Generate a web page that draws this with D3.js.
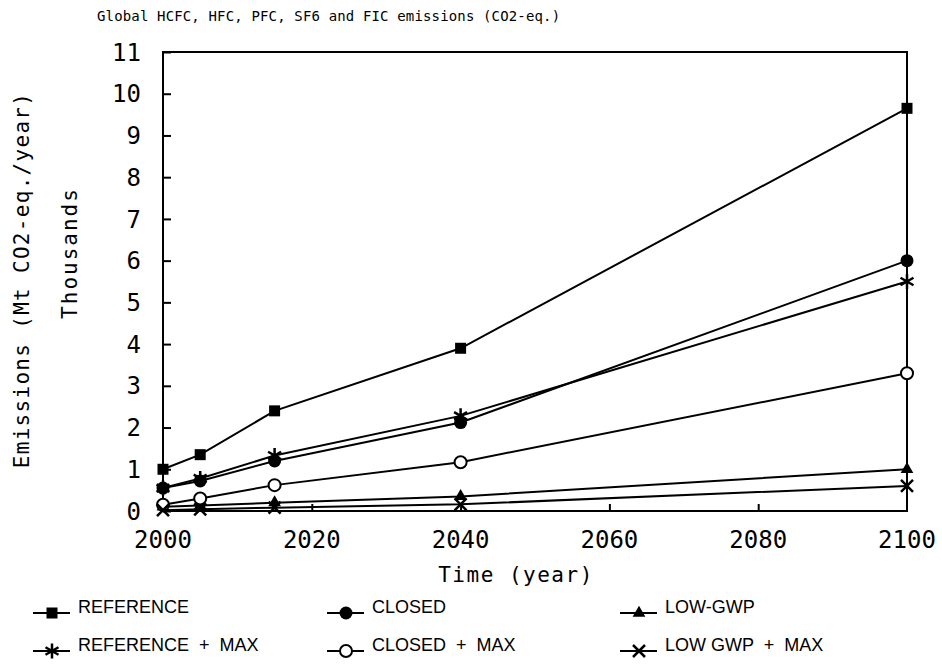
<!DOCTYPE html>
<meta charset="utf-8">
<head>
  <title>Global HCFC, HFC, PFC, SF6 and FIC emissions</title>
  <style>
    body { margin: 0; background: #fff; }
    text { fill: #000; }
    .mono { font-family: "DejaVu Sans Mono", monospace; }
    .leg { font-family: "Liberation Sans", sans-serif; }
  </style>
</head>

<script src="https://d3js.org/d3.v7.min.js"></script>

<div id="my_dataviz"></div>

<script>

// data (thousands of Mt CO2-eq./year)
var years = [2000, 2005, 2015, 2040, 2100];
var referenceVals    = [1.0, 1.35, 2.4, 3.9, 9.65];
var closedVals       = [0.55, 0.72, 1.2, 2.12, 6.0];
var lowGwpVals       = [0.1, 0.13, 0.2, 0.35, 1.0];
var referenceMaxVals = [0.55, 0.78, 1.33, 2.28, 5.5];
var closedMaxVals    = [0.15, 0.3, 0.62, 1.17, 3.3];
var lowGwpMaxVals    = [0.02, 0.04, 0.08, 0.16, 0.6];
var yTicks = [0, 1, 2, 3, 4, 5, 6, 7, 8, 9, 10, 11];
var xTicks = [2000, 2020, 2040, 2060, 2080, 2100];

var seriesNames = ["REFERENCE", "CLOSED", "LOW-GWP", "REFERENCE + MAX", "CLOSED + MAX", "LOW GWP + MAX"];
var seriesValues = [referenceVals, closedVals, lowGwpVals, referenceMaxVals, closedMaxVals, lowGwpMaxVals];
var seriesMarks = ["square", "dot", "triangle", "star", "ring", "cross"];

// set the dimensions and margins of the graph
var margin = {top: 52, right: 35, bottom: 157, left: 163},
    width = 942 - margin.left - margin.right,
    height = 668 - margin.top - margin.bottom;

var root = d3.select("#my_dataviz")
  .append("svg")
    .attr("width", 942)
    .attr("height", 668);

var svg = root.append("g")
    .attr("transform", "translate(" + margin.left + "," + margin.top + ")");

var x = d3.scaleLinear().domain([2000, 2100]).range([0, width]);
var y = d3.scaleLinear().domain([0, 11]).range([height, 0]);

// frame
svg.append("rect")
  .attr("width", width).attr("height", height)
  .attr("fill", "none").attr("stroke", "#000").attr("stroke-width", 2);

// Y axis, ticks pointing inward
var yAxis = svg.append("g")
  .call(d3.axisRight(y).tickValues(yTicks).tickSize(8).tickFormat(""));
yAxis.select(".domain").remove();
yAxis.selectAll("line").attr("stroke-width", 2);
svg.append("g").selectAll("text")
  .data(yTicks)
  .join("text")
    .attr("class", "mono")
    .attr("x", -22)
    .attr("y", function(d) { return y(d); })
    .attr("dy", "0.36em")
    .style("text-anchor", "end")
    .style("font-size", "24px")
    .text(function(d) { return d; });

// X axis, ticks pointing up
var xAxis = svg.append("g")
  .attr("transform", "translate(0," + height + ")")
  .call(d3.axisTop(x).tickValues(xTicks.slice(1, -1)).tickSize(7).tickFormat(""));
xAxis.select(".domain").remove();
xAxis.selectAll("line").attr("stroke-width", 2);
svg.append("g").selectAll("text")
  .data(xTicks)
  .join("text")
    .attr("class", "mono")
    .attr("x", function(d) { return x(d); })
    .attr("y", height + 37)
    .style("text-anchor", "middle")
    .style("font-size", "24px")
    .text(function(d) { return d; });

// marker drawing
function drawMark(g, kind, cx, cy) {
  if (kind === "square") {
    g.append("rect").attr("x", cx - 5.5).attr("y", cy - 5.5).attr("width", 11).attr("height", 11).attr("fill", "#000");
  } else if (kind === "dot") {
    g.append("circle").attr("cx", cx).attr("cy", cy).attr("r", 6.5).attr("fill", "#000");
  } else if (kind === "ring") {
    g.append("circle").attr("cx", cx).attr("cy", cy).attr("r", 6).attr("fill", "#fff").attr("stroke", "#000").attr("stroke-width", 2);
  } else if (kind === "triangle") {
    g.append("path").attr("d", d3.symbol().type(d3.symbolTriangle).size(70)()).attr("transform", "translate(" + cx + "," + cy + ")").attr("fill", "#000");
  } else if (kind === "star") {
    var p = "";
    [90, 30, -30].forEach(function(a) {
      var r = a * Math.PI / 180, dx = 7.5 * Math.cos(r), dy = 7.5 * Math.sin(r);
      p += "M" + (cx - dx) + "," + (cy - dy) + "L" + (cx + dx) + "," + (cy + dy);
    });
    g.append("path").attr("d", p).attr("stroke", "#000").attr("stroke-width", 2.5);
  } else if (kind === "cross") {
    g.append("path").attr("d", "M" + (cx - 6) + "," + (cy - 6) + "L" + (cx + 6) + "," + (cy + 6) + "M" + (cx - 6) + "," + (cy + 6) + "L" + (cx + 6) + "," + (cy - 6))
      .attr("stroke", "#000").attr("stroke-width", 2.5);
  }
}

var line = d3.line()
  .x(function(d, i) { return x(years[i]); })
  .y(function(d) { return y(d); });

seriesValues.forEach(function(vals, k) {
  var g = svg.append("g");
  g.append("path")
    .datum(vals)
    .attr("fill", "none")
    .attr("stroke", "#000")
    .attr("stroke-width", 2)
    .attr("d", line);
  vals.forEach(function(v, i) { drawMark(g, seriesMarks[k], x(years[i]), y(v)); });
});

// titles
root.append("text")
  .attr("class", "mono")
  .attr("x", 97).attr("y", 21)
  .style("font-size", "14px")
  .style("letter-spacing", "0.15px")
  .text("Global HCFC, HFC, PFC, SF6 and FIC emissions (CO2-eq.)");

root.append("text")
  .attr("class", "mono")
  .attr("transform", "translate(29,280) rotate(-90)")
  .style("text-anchor", "middle")
  .style("font-size", "21px")
  .style("letter-spacing", "1.3px")
  .text("Emissions (Mt CO2-eq./year)");

root.append("text")
  .attr("class", "mono")
  .attr("transform", "translate(77,253) rotate(-90)")
  .style("text-anchor", "middle")
  .style("font-size", "21px")
  .style("letter-spacing", "2px")
  .text("Thousands");

root.append("text")
  .attr("class", "mono")
  .attr("x", 516).attr("y", 582)
  .style("text-anchor", "middle")
  .style("font-size", "21px")
  .style("letter-spacing", "1.5px")
  .text("Time (year)");

// legend
var legX = [33, 327, 620], legY = [613, 651];
seriesNames.forEach(function(name, k) {
  var lx = legX[k % 3], ly = legY[Math.floor(k / 3)];
  var g = root.append("g");
  g.append("line")
    .attr("x1", lx).attr("x2", lx + 37)
    .attr("y1", ly).attr("y2", ly)
    .attr("stroke", "#000").attr("stroke-width", 2);
  drawMark(g, seriesMarks[k], lx + 19, ly);
  g.append("text")
    .attr("class", "leg")
    .attr("x", lx + 45).attr("y", ly)
    .style("font-size", "18px")
    .style("white-space", "pre")
    .text(name.replace(" + ", "  +  "));
});

</script>
